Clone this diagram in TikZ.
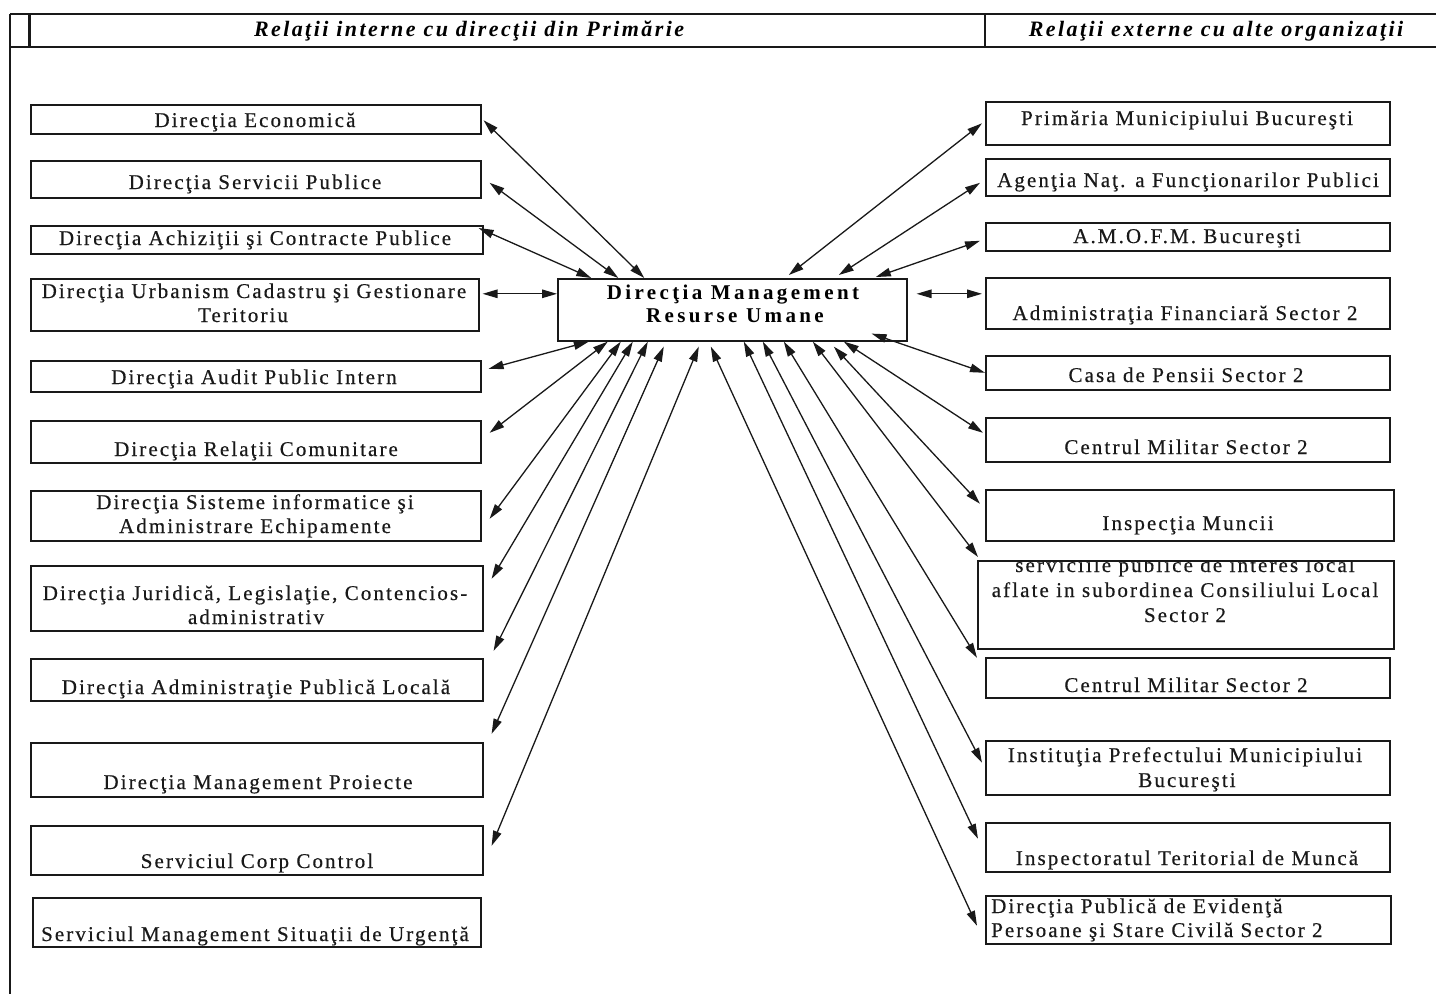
\documentclass[tikz,border=0pt]{standalone}
\usepackage{fontspec}
\setmainfont{Liberation Serif}
\newfontfamily\boxfont{Liberation Serif}[LetterSpace=10,FakeBold=0.4]
\newfontfamily\hdrfont{Liberation Serif}[LetterSpace=11]
\newfontfamily\ctrfont{Liberation Serif}[LetterSpace=16]
\usetikzlibrary{arrows.meta}
\tikzset{
  box/.style={draw=black!90, line width=1.6pt, rectangle, inner sep=0pt, anchor=north west},
  lbl/.style={font={\boxfont\fontsize{21}{25}\selectfont}, anchor=base, inner sep=0pt, text=black!90},
  lblw/.style={lbl, anchor=base west},
  hdr/.style={font={\hdrfont\bfseries\itshape\fontsize{22}{26}\selectfont}, anchor=base, inner sep=0pt},
  ctr/.style={font={\ctrfont\bfseries\fontsize{21}{25}\selectfont}, anchor=base, inner sep=0pt},
  con/.style={draw=black!90, line width=1.3pt, {Triangle[length=15pt,width=8.5pt]}-{Triangle[length=15pt,width=8.5pt]}},
  frame/.style={draw=black!90, line width=2pt}
}
\begin{document}
\begin{tikzpicture}[x=1pt,y=-1pt]
\useasboundingbox (0,0) rectangle (1436,994);
\fill[white] (0,0) rectangle (1436,994);
% header frame
\draw[frame] (10,14) -- (1436,14);
\draw[frame] (10,47) -- (1436,47);
\draw[frame, line width=3pt] (29,14) -- (29,47);
\draw[frame] (985,14) -- (985,47);
\draw[frame, line width=2.5pt] (10,14) -- (10,994);
\node[hdr] (h1) at (469,36) {Relaţii interne cu direcţii din Primărie};
\node[hdr] (h2) at (1216,36) {Relaţii externe cu alte organizaţii};

% center
\node[box, minimum width=349pt, minimum height=62pt] (C) at (557,278) {};
\node[ctr] (c1) at (733,299) {Direcţia Management};
\node[ctr] (c2) at (735,322) {Resurse Umane};

% left boxes
\node[box, minimum width=450pt, minimum height=29pt] (L1) at (30,104) {};
\node[box, minimum width=450pt, minimum height=37pt] (L2) at (30,160) {};
\node[box, minimum width=452pt, minimum height=28pt] (L3) at (30,225) {};
\node[box, minimum width=448pt, minimum height=52pt] (L4) at (30,278) {};
\node[box, minimum width=450pt, minimum height=31pt] (L5) at (30,360) {};
\node[box, minimum width=450pt, minimum height=42pt] (L6) at (30,420) {};
\node[box, minimum width=450pt, minimum height=50pt] (L7) at (30,490) {};
\node[box, minimum width=452pt, minimum height=65pt] (L8) at (30,565) {};
\node[box, minimum width=452pt, minimum height=42pt] (L9) at (30,658) {};
\node[box, minimum width=452pt, minimum height=54pt] (L10) at (30,742) {};
\node[box, minimum width=452pt, minimum height=49pt] (L11) at (30,825) {};
\node[box, minimum width=448pt, minimum height=49pt] (L12) at (32,897) {};

\node[lbl] (tL1) at (255,127) {Direcţia Economică};
\node[lbl] (tL2) at (255,189) {Direcţia Servicii Publice};
\node[lbl] (tL3) at (255,245) {Direcţia Achiziţii şi Contracte Publice};
\node[lbl] (tL4a) at (254,298) {Direcţia Urbanism Cadastru şi Gestionare};
\node[lbl] (tL4b) at (243,322) {Teritoriu};
\node[lbl] (tL5) at (254,384) {Direcţia Audit Public Intern};
\node[lbl] (tL6) at (256,456) {Direcţia Relaţii Comunitare};
\node[lbl] (tL7a) at (255,509) {Direcţia Sisteme informatice şi};
\node[lbl] (tL7b) at (255,533) {Administrare Echipamente};
\node[lbl] (tL8a) at (255,600) {Direcţia Juridică, Legislaţie, Contencios-};
\node[lbl] (tL8b) at (256,624) {administrativ};
\node[lbl] (tL9) at (256,694) {Direcţia Administraţie Publică Locală};
\node[lbl] (tL10) at (258,789) {Direcţia Management Proiecte};
\node[lbl] (tL11) at (257,868) {Serviciul Corp Control};
\node[lbl] (tL12) at (255,941) {Serviciul Management Situaţii de Urgenţă};

% right boxes
\node[box, minimum width=404pt, minimum height=43pt] (R1) at (985,101) {};
\node[box, minimum width=404pt, minimum height=37pt] (R2) at (985,158) {};
\node[box, minimum width=404pt, minimum height=28pt] (R3) at (985,222) {};
\node[box, minimum width=404pt, minimum height=51pt] (R4) at (985,277) {};
\node[box, minimum width=404pt, minimum height=34pt] (R5) at (985,355) {};
\node[box, minimum width=404pt, minimum height=44pt] (R6) at (985,417) {};
\node[box, minimum width=408pt, minimum height=51pt] (R7) at (985,489) {};
\node[box, minimum width=416pt, minimum height=88pt] (R8) at (977,560) {};
\node[box, minimum width=404pt, minimum height=40pt] (R9) at (985,657) {};
\node[box, minimum width=404pt, minimum height=54pt] (R10) at (985,740) {};
\node[box, minimum width=404pt, minimum height=49pt] (R11) at (985,822) {};
\node[box, minimum width=405pt, minimum height=48pt] (R12) at (985,895) {};

\node[lbl] (tR1) at (1187,125) {Primăria Municipiului Bucureşti};
\node[lbl] (tR2) at (1188,187) {Agenţia Naţ. a Funcţionarilor Publici};
\node[lbl] (tR3) at (1187,243) {A.M.O.F.M. Bucureşti};
\node[lbl] (tR4) at (1185,320) {Administraţia Financiară Sector 2};
\node[lbl] (tR5) at (1186,382) {Casa de Pensii Sector 2};
\node[lbl] (tR6) at (1186,454) {Centrul Militar Sector 2};
\node[lbl] (tR7) at (1188,530) {Inspecţia Muncii};
\begin{scope}
  \clip (977,562) rectangle (1393,648);
  \node[lbl] (tR8a) at (1185,572) {serviciile publice de interes local};
\end{scope}
\node[lbl] (tR8b) at (1185,597) {aflate in subordinea Consiliului Local};
\node[lbl] (tR8c) at (1185,622) {Sector 2};
\node[lbl] (tR9) at (1186,692) {Centrul Militar Sector 2};
\node[lbl] (tR10a) at (1185,762) {Instituţia Prefectului Municipiului};
\node[lbl] (tR10b) at (1187,787) {Bucureşti};
\node[lbl] (tR11) at (1187,865) {Inspectoratul Teritorial de Muncă};
\node[lblw] (tR12a) at (991,913) {Direcţia Publică de Evidenţă};
\node[lblw] (tR12b) at (991,937) {Persoane şi Stare Civilă Sector 2};

% connectors left
\draw[con] ([shift={(2,1)}]L1.east) -- ([shift={(-88,0)}]C.north);
\draw[con] ([shift={(8,3.5)}]L2.east) -- ([shift={(-114,0)}]C.north);
\draw[con] ([shift={(-5,3)}]L3.north east) -- ([shift={(-141,0)}]C.north);
\draw[con] ([shift={(3,-11)}]L4.east) -- ([shift={(0,-16)}]C.west);
\draw[con] ([shift={(7,-7.5)}]L5.east) -- ([shift={(-143.5,0)}]C.south);
\draw[con] ([shift={(8,-9)}]L6.east) -- ([shift={(-124.5,0)}]C.south);
\draw[con] ([shift={(8,3)}]L7.east) -- ([shift={(-111.5,0)}]C.south);
\draw[con] ([shift={(8,-19.5)}]L8.east) -- ([shift={(-99.5,0)}]C.south);
\draw[con] ([shift={(10,-29)}]L9.east) -- ([shift={(-84.5,0)}]C.south);
\draw[con] ([shift={(8,-36)}]L10.east) -- ([shift={(-68.5,5)}]C.south);
\draw[con] ([shift={(8,-4.5)}]L11.east) -- ([shift={(-33.5,5)}]C.south);
% connectors right
\draw[con] ([shift={(-21.5,5)}]C.south) -- ([shift={(-8,6)}]R12.west);
\draw[con] ([shift={(11.5,0)}]C.south) -- ([shift={(-7,-8.5)}]R11.west);
\draw[con] ([shift={(30.5,0)}]C.south) -- ([shift={(-3,-5)}]R10.west);
\draw[con] ([shift={(51.5,0)}]C.south) -- ([shift={(-8,-20)}]R9.west);
\draw[con] ([shift={(80.5,0)}]C.south) -- ([shift={(1,-3)}]R8.north west);
\draw[con] ([shift={(101.5,5)}]C.south) -- ([shift={(-5,-11.5)}]R7.west);
\draw[con] ([shift={(111.5,0)}]C.south) -- ([shift={(-2,-7)}]R6.west);
\draw[con] ([shift={(-36,-8)}]C.south east) -- (R5.west);
\draw[con] ([shift={(56.5,-3)}]C.north) -- ([shift={(-3,0)}]R1.west);
\draw[con] ([shift={(106.5,-3)}]C.north) -- ([shift={(-5,5.5)}]R2.west);
\draw[con] ([shift={(143.5,-1)}]C.north) -- ([shift={(-5,4)}]R3.west);
\draw[con] ([shift={(9,-16)}]C.east) -- ([shift={(-3,-9.5)}]R4.west);
\end{tikzpicture}
\end{document}
